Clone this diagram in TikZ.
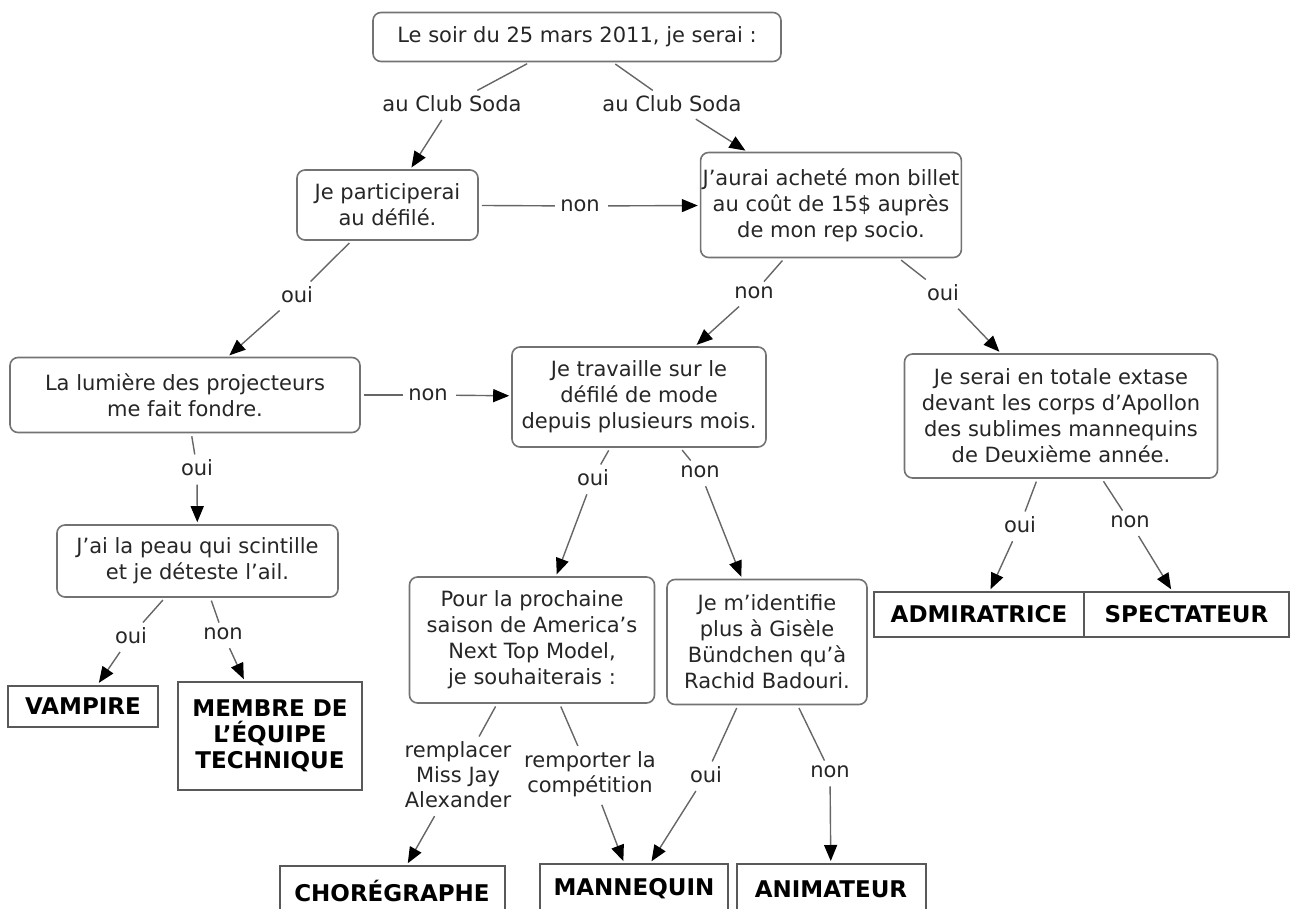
\documentclass[tikz,border=0pt]{standalone}
\usepackage{fontspec}
\setmainfont{DejaVu Sans}
\usetikzlibrary{arrows.meta}

\begin{document}
\begin{tikzpicture}[x=0.5pt, y=-0.5pt,
concept/.style={draw=black!55, line width=0.8pt, rounded corners=4pt, fill=white, align=center, inner sep=1pt, text=black!85, font=\fontsize{10.5}{13}\selectfont},
reponse/.style={draw=black!65, line width=1pt, fill=white, align=center, inner sep=2pt, font=\fontsize{11.5}{13}\selectfont\bfseries},
lien/.style={align=center, inner sep=2.5pt, text=black!85, font=\fontsize{10.5}{12.5}\selectfont},
ligne/.style={draw=black!60, line width=0.7pt, shorten <=1.5pt},
fleche/.style={ligne, -{Triangle[length=8pt, width=6.5pt, color=black]}, shorten >=1pt}]
\clip (0,0) rectangle (1291,909);
\useasboundingbox (0,0) rectangle (1291,909);
\node[concept, minimum width=204pt, minimum height=24.5pt] (1) at (577,37) {Le soir du 25 mars 2011, je serai :};
\node[concept, minimum width=90.5pt, minimum height=35pt] (2) at (387.5,205) {Je participerai\\au défilé.};
\node[concept, minimum width=127pt, minimum height=52.5pt] (3) at (831,205) {J'aurai acheté mon billet\\au coût de 15\$ auprès\\de mon rep socio.};
\node[concept, minimum width=175pt, minimum height=37.5pt] (4) at (185,395) {La lumière des projecteurs\\me fait fondre.};
\node[concept, minimum width=127pt, minimum height=50pt] (5) at (639,397) {Je travaille sur le\\défilé de mode\\depuis plusieurs mois.};
\node[concept, minimum width=156.5pt, minimum height=62pt] (6) at (1061,416) {Je serai en totale extase\\devant les corps d'Apollon\\des sublimes mannequins\\de Deuxième année.};
\node[concept, minimum width=140.5pt, minimum height=36pt] (7) at (197.5,561) {J'ai la peau qui scintille\\et je déteste l'ail.};
\node[concept, minimum width=122.5pt, minimum height=63pt] (8) at (532,640) {Pour la prochaine\\saison de America's\\Next Top Model,\\je souhaiterais :};
\node[concept, minimum width=100pt, minimum height=62.5pt] (9) at (767,642) {Je m'identifie\\plus à Gisèle\\Bündchen qu'à\\Rachid Badouri.};
\node[reponse, minimum width=75pt, minimum height=20.5pt] (10) at (83,706) {VAMPIRE};
\node[reponse, minimum width=92pt, minimum height=54pt] (11) at (270,736) {MEMBRE DE\\L'ÉQUIPE\\TECHNIQUE};
\node[reponse, minimum width=105pt, minimum height=22.5pt] (12) at (979,614.5) {ADMIRATRICE};
\node[reponse, minimum width=102.5pt, minimum height=22.5pt] (13) at (1186.5,614.5) {SPECTATEUR};
\node[reponse, minimum width=112.5pt, minimum height=25pt] (14) at (392,891) {CHORÉGRAPHE};
\node[reponse, minimum width=94pt, minimum height=25pt] (15) at (634,889) {MANNEQUIN};
\node[reponse, minimum width=94.5pt, minimum height=25pt] (16) at (831,889) {ANIMATEUR};
\node[lien] (l1) at (452,104) {au Club Soda};
\node[lien] (l2) at (672,104) {au Club Soda};
\node[lien] (l3) at (580,206) {non};
\node[lien] (l4) at (297,295) {oui};
\node[lien] (l5) at (754,293) {non};
\node[lien] (l6) at (943,293) {oui};
\node[lien] (l7) at (428,395) {non};
\node[lien] (l8) at (197,468) {oui};
\node[lien] (l9) at (593,478) {oui};
\node[lien] (l10) at (700,472) {non};
\node[lien] (l11) at (1020,525) {oui};
\node[lien] (l12) at (1130,522) {non};
\node[lien] (l13) at (131,636) {oui};
\node[lien] (l14) at (223,634) {non};
\node[lien] (l15) at (458,775) {remplacer\\Miss Jay\\Alexander};
\node[lien] (l16) at (590,774) {remporter la\\compétition};
\node[lien] (l17) at (706,775) {oui};
\node[lien] (l18) at (830,772) {non};
\draw[ligne] (1) -- (l1); \draw[fleche] (l1) -- (2);
\draw[ligne] (1) -- (l2); \draw[fleche] (l2) -- (3);
\draw[ligne] (2) -- (l3); \draw[fleche] (l3) -- (3);
\draw[ligne] (2) -- (l4); \draw[fleche] (l4) -- (4);
\draw[ligne] (3) -- (l5); \draw[fleche] (l5) -- (5);
\draw[ligne] (3) -- (l6); \draw[fleche] (l6) -- (6);
\draw[ligne] (4) -- (l7); \draw[fleche] (l7) -- (5);
\draw[ligne] (4) -- (l8); \draw[fleche] (l8) -- (7);
\draw[ligne] (5) -- (l9); \draw[fleche] (l9) -- (8);
\draw[ligne] (5) -- (l10); \draw[fleche] (l10) -- (9);
\draw[ligne] (6) -- (l11); \draw[fleche] (l11) -- (12);
\draw[ligne] (6) -- (l12); \draw[fleche] (l12) -- (13);
\draw[ligne] (7) -- (l13); \draw[fleche] (l13) -- (10);
\draw[ligne] (7) -- (l14); \draw[fleche] (l14) -- (11);
\draw[ligne] (8) -- (l15); \draw[fleche] (l15) -- (14);
\draw[ligne] (8) -- (l16); \draw[fleche] (l16) -- (15);
\draw[ligne] (9) -- (l17); \draw[fleche] (l17) -- (15);
\draw[ligne] (9) -- (l18); \draw[fleche] (l18) -- (16);
\end{tikzpicture}
\end{document}
